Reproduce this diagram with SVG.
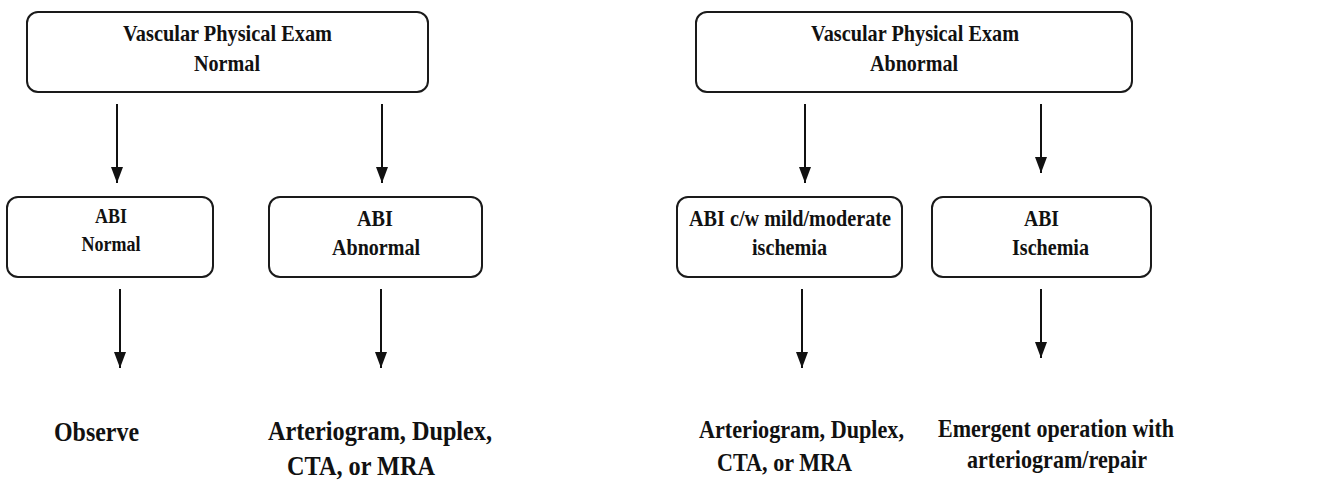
<svg xmlns="http://www.w3.org/2000/svg" width="1328" height="480" viewBox="0 0 1328 480">
<style>
.box{fill:#fff;stroke:#1a1a1a;stroke-width:2}
.arr{stroke:#111;stroke-width:2;fill:none;marker-end:url(#ah)}
</style>
<defs>
<marker id="ah" markerUnits="userSpaceOnUse" markerWidth="16" markerHeight="12" refX="16" refY="6" orient="auto">
<path d="M0,0 L16,6 L0,12 z" fill="#111"/>
</marker>
</defs>
<rect width="1328" height="480" fill="#fff"/>
<g id="connectors">
<line class="arr" x1="117" y1="104" x2="117" y2="183"/>
<line class="arr" x1="382" y1="104" x2="382" y2="183"/>
<line class="arr" x1="805" y1="104" x2="805" y2="183"/>
<line class="arr" x1="1041" y1="104" x2="1041" y2="173"/>
<line class="arr" x1="120" y1="289" x2="120" y2="368"/>
<line class="arr" x1="381" y1="289" x2="381" y2="368"/>
<line class="arr" x1="802" y1="289" x2="802" y2="368"/>
<line class="arr" x1="1041" y1="289" x2="1041" y2="358"/>
</g>
<g font-family="Liberation Serif" font-weight="bold" fill="#111" text-anchor="middle" lengthAdjust="spacingAndGlyphs">
<g id="vpe-normal" font-size="23">
<rect class="box" x="27" y="12" width="401" height="80" rx="11"/>
<text x="227.5" y="41" textLength="209" lengthAdjust="spacingAndGlyphs">Vascular Physical Exam</text>
<text x="227" y="71" textLength="66" lengthAdjust="spacingAndGlyphs">Normal</text>
</g>
<g id="vpe-abnormal" font-size="23">
<rect class="box" x="696" y="12" width="436" height="80" rx="11"/>
<text x="915" y="41" textLength="208" lengthAdjust="spacingAndGlyphs">Vascular Physical Exam</text>
<text x="914" y="71" textLength="88" lengthAdjust="spacingAndGlyphs">Abnormal</text>
</g>
<g id="abi-normal" font-size="20.5">
<rect class="box" x="7" y="197" width="206" height="80" rx="11"/>
<text x="111" y="223" textLength="32" lengthAdjust="spacingAndGlyphs">ABI</text>
<text x="111" y="251" textLength="59" lengthAdjust="spacingAndGlyphs">Normal</text>
</g>
<g id="abi-abnormal" font-size="22.5">
<rect class="box" x="269" y="197" width="213" height="80" rx="11"/>
<text x="375" y="226" textLength="36" lengthAdjust="spacingAndGlyphs">ABI</text>
<text x="376" y="255" textLength="88" lengthAdjust="spacingAndGlyphs">Abnormal</text>
</g>
<g id="abi-mild" font-size="22.5">
<rect class="box" x="677" y="197" width="225" height="80" rx="11"/>
<text x="790" y="226" textLength="202" lengthAdjust="spacingAndGlyphs">ABI c/w mild/moderate</text>
<text x="789.5" y="255" textLength="75" lengthAdjust="spacingAndGlyphs">ischemia</text>
</g>
<g id="abi-ischemia" font-size="22.5">
<rect class="box" x="932" y="197" width="219" height="80" rx="11"/>
<text x="1041.5" y="226" textLength="35" lengthAdjust="spacingAndGlyphs">ABI</text>
<text x="1050.5" y="255" textLength="77" lengthAdjust="spacingAndGlyphs">Ischemia</text>
</g>
<g id="observe" font-size="27">
<text x="96.5" y="441" textLength="85" lengthAdjust="spacingAndGlyphs">Observe</text>
</g>
<g id="imaging-left" font-size="27">
<text x="380" y="440" textLength="224" lengthAdjust="spacingAndGlyphs">Arteriogram, Duplex,</text>
<text x="361" y="475" textLength="148" lengthAdjust="spacingAndGlyphs">CTA, or MRA</text>
</g>
<g id="imaging-right" font-size="25">
<text x="801.5" y="438" textLength="205" lengthAdjust="spacingAndGlyphs">Arteriogram, Duplex,</text>
<text x="784.5" y="471" textLength="135" lengthAdjust="spacingAndGlyphs">CTA, or MRA</text>
</g>
<g id="emergent" font-size="25">
<text x="1056" y="437" textLength="236" lengthAdjust="spacingAndGlyphs">Emergent operation with</text>
<text x="1057" y="468" textLength="180" lengthAdjust="spacingAndGlyphs">arteriogram/repair</text>
</g>
</g>
</svg>
